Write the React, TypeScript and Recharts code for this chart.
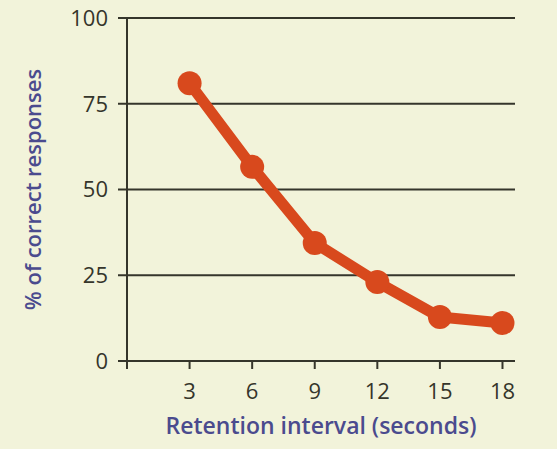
import { LineChart, Line, XAxis, YAxis, CartesianGrid } from "recharts";

const intervals = [3, 6, 9, 12, 15, 18];
const correct = [81, 56.6, 34.4, 23, 12.8, 11.1];
const xTicks = [0, 3, 6, 9, 12, 15, 18];
const yTicks = [0, 25, 50, 75, 100];

const data = intervals.map((t, i) => ({ t, pct: correct[i] }));

const BG = "#f2f3da";
const INK = "#35352b";
const LINE = "#d8491d";
const BLUE = "#4b4b8e";
const FONT = "'Open Sans', sans-serif";

export default function App() {
  return (
    <div style={{ position: "absolute", left: 0, top: 0, width: 557, height: 449, background: BG }}>
      <LineChart
        width={557}
        height={449}
        data={data}
        margin={{ top: 18, right: 42, bottom: 8, left: 0 }}
        style={{ fontFamily: FONT }}
      >
        <CartesianGrid horizontal vertical={false} stroke={INK} strokeWidth={2} />
        <XAxis
          dataKey="t"
          type="number"
          domain={[0, 18.6]}
          ticks={xTicks}
          tickFormatter={(v) => (v === 0 ? "" : String(v))}
          height={80}
          tickSize={8}
          tickMargin={14}
          axisLine={{ stroke: INK, strokeWidth: 2 }}
          tickLine={{ stroke: INK, strokeWidth: 2 }}
          tick={{ fill: INK, fontSize: 22, fontWeight: 500 }}
          label={{
            value: "Retention interval (seconds)",
            position: "insideBottom",
            offset: 7,
            fill: BLUE,
            fontSize: 23,
            fontWeight: 600,
          }}
        />
        <YAxis
          domain={[0, 100]}
          ticks={yTicks}
          width={127}
          tickSize={9}
          tickMargin={10}
          axisLine={{ stroke: INK, strokeWidth: 2 }}
          tickLine={{ stroke: INK, strokeWidth: 2 }}
          tick={{ fill: INK, fontSize: 22, fontWeight: 500 }}
          label={{
            value: "% of correct responses",
            angle: -90,
            position: "insideLeft",
            offset: 33,
            fill: BLUE,
            fontSize: 22,
            fontWeight: 600,
            style: { textAnchor: "middle" },
          }}
        />
        <Line
          dataKey="pct"
          type="linear"
          stroke={LINE}
          strokeWidth={11}
          strokeLinejoin="round"
          dot={{ r: 12, fill: LINE, stroke: "none" }}
          activeDot={false}
          isAnimationActive={false}
        />
      </LineChart>
    </div>
  );
}
